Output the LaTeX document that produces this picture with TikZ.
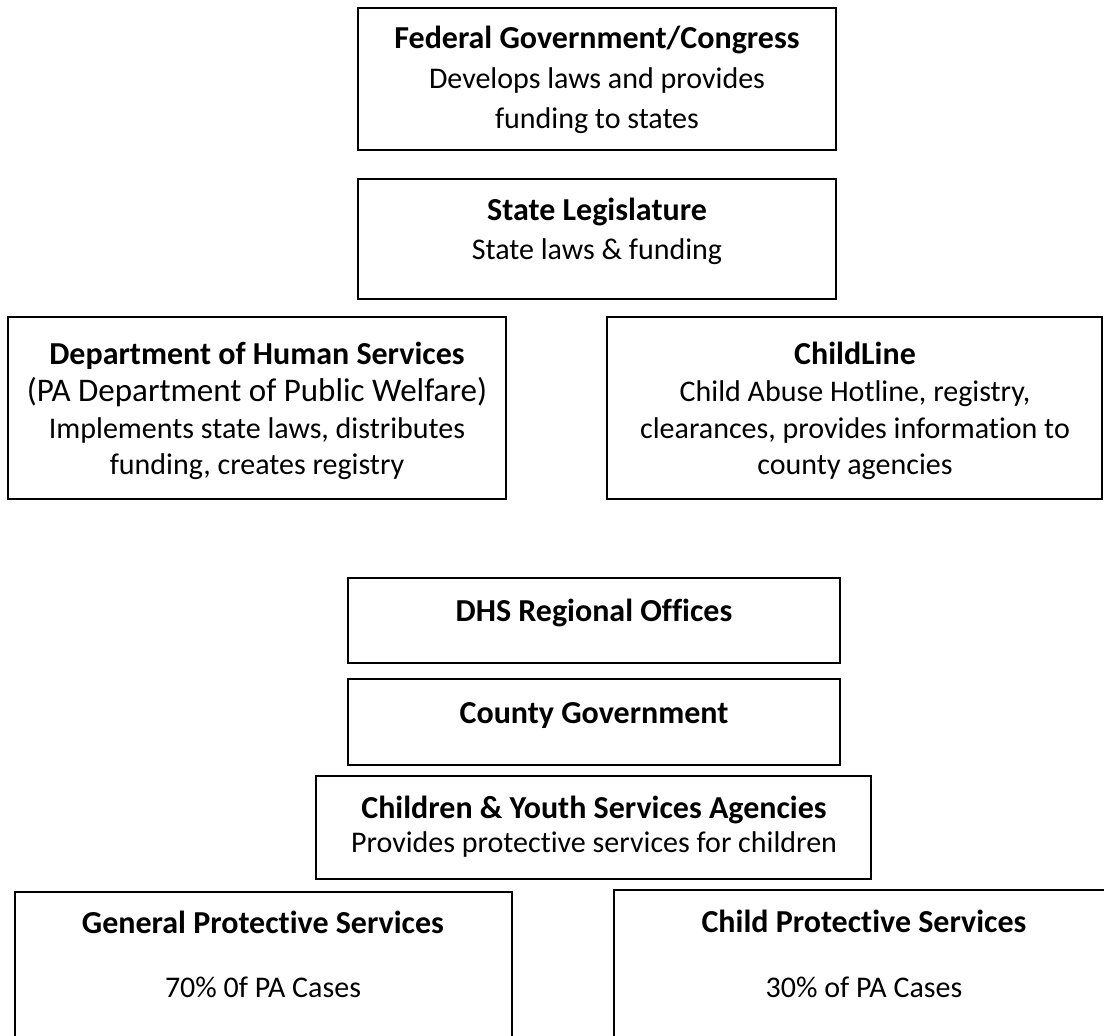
\documentclass[tikz,border=0pt]{standalone}
\usepackage{fontspec}
\setmainfont{Carlito}[Ligatures={NoCommon}]
\begin{document}
\begin{tikzpicture}[x=1pt,y=-1pt,
  box/.style={draw=black,line width=2pt,fill=white},
  ttl/.style={font=\fontsize{32}{34}\selectfont\bfseries,anchor=base,inner sep=0pt},
  txt/.style={font=\fontsize{30}{34}\selectfont,anchor=base,inner sep=0pt}]
\fill[white] (0,0) rectangle (1104,1036);
\useasboundingbox (0,0) rectangle (1104,1036);
% Federal
\draw[box] (358,8) rectangle (836,150);
\node[ttl] (fedT) at (597,48) {Federal Government/Congress};
\node[txt] (fedA) at (597,88) {Develops laws and provides};
\node[txt] (fedB) at (597,128) {funding to states};
% State
\draw[box] (358,179) rectangle (836,299);
\node[ttl] (stT) at (597,220) {State Legislature};
\node[txt] (stA) at (597,259) {State laws \& funding};
% DHS
\draw[box] (8,317) rectangle (506,499);
\node[ttl] (dhsT) at (257,364) {Department of Human Services};
\node[font=\fontsize{33}{34}\selectfont,anchor=base,inner sep=0pt] (dhsA) at (257,401) {(PA Department of Public Welfare)};
\node[txt] (dhsB) at (257,438) {Implements state laws, distributes};
\node[txt] (dhsC) at (257,474) {funding, creates registry};
% ChildLine
\draw[box] (607,317) rectangle (1102,499);
\node[ttl] (clT) at (855,364) {ChildLine};
\node[txt] (clA) at (855,401) {Child Abuse Hotline, registry,};
\node[txt] (clB) at (855,438) {clearances, provides information to};
\node[txt] (clC) at (855,474) {county agencies};
% Regional
\draw[box] (348,578) rectangle (840,663);
\node[ttl] (reg) at (594,621) {DHS Regional Offices};
% County
\draw[box] (348,679) rectangle (840,765);
\node[ttl] (cty) at (594,723) {County Government};
% Children
\draw[box] (316,776) rectangle (871,879);
\node[ttl] (cysT) at (594,818) {Children \& Youth Services Agencies};
\node[txt] (cysA) at (594,852) {Provides protective services for children};
% General
\draw[box] (15,892) rectangle (512,1045);
\node[ttl] (gpsT) at (263,933) {General Protective Services};
\node[txt] (gpsA) at (263,997) {70\% 0f PA Cases};
% Child Protective
\draw[box] (614,890) rectangle (1115,1045);
\node[ttl] (cpsT) at (864,932) {Child Protective Services};
\node[txt] (cpsA) at (864,997) {30\% of PA Cases};
\end{tikzpicture}
\end{document}
